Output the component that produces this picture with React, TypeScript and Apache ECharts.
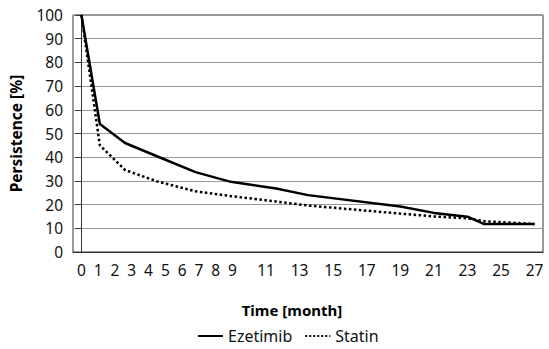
import React, { useEffect, useRef } from "react";
import * as echarts from "echarts";

const monthLabels = Array.from({ length: 28 }, (_, i) => String(i));
const timePoints = [0, 1.1, 2.6, 4.5, 6.8, 8.9, 11.6, 13.5, 19, 21, 23, 24, 27];
const ezetimib = [100, 54, 46, 40.4, 33.7, 29.6, 26.8, 24, 19.2, 16.5, 14.9, 11.8, 11.8];
const statin = [100, 45, 34.6, 29.8, 25.6, 23.6, 21.3, 19.6, 16.2, 15, 14.2, 13, 11.8];

const FONT = "Noto Sans";

export default function App() {
  const ref = useRef<HTMLDivElement>(null);
  useEffect(() => {
    if (!ref.current) return;
    const chart = echarts.init(ref.current, null, { renderer: "svg" });
    chart.setOption({
      animation: false,
      textStyle: { fontFamily: FONT, color: "#111" },
      grid: {
        left: 73,
        right: 6,
        top: 15,
        bottom: 97,
        show: true,
        borderColor: "#333",
        borderWidth: 1,
      },
      legend: {
        left: 192,
        top: 323,
        itemWidth: 25,
        itemHeight: 14,
        itemGap: 12,
        itemStyle: { opacity: 0 },
        textStyle: { fontFamily: FONT, fontSize: 16, color: "#111" },
        data: ["Ezetimib", "Statin"],
      },
      xAxis: [
        {
          type: "category",
          data: monthLabels,
          boundaryGap: true,
          axisTick: { show: false },
          axisLine: { show: true, lineStyle: { color: "#333", width: 1 } },
          axisLabel: {
            interval: (index: number) => index < 10 || index % 2 === 1,
            margin: 10,
            fontFamily: FONT,
            fontSize: 15.5,
            color: "#111",
          },
          name: "Time [month]",
          nameLocation: "middle",
          nameGap: 50,
          nameTextStyle: {
            fontFamily: FONT,
            fontWeight: "bold",
            fontSize: 15,
            color: "#000",
            padding: [0, 32, 0, 0],
          },
        },
        {
          type: "value",
          min: -0.5,
          max: 27.5,
          show: false,
          position: "bottom",
        },
      ],
      yAxis: {
        type: "value",
        min: 0,
        max: 100,
        interval: 10,
        axisLine: { show: true, lineStyle: { color: "#333", width: 1 } },
        axisTick: { show: true, length: 6, lineStyle: { color: "#333" } },
        axisLabel: {
          margin: 10,
          fontFamily: FONT,
          fontSize: 15.5,
          color: "#111",
        },
        splitLine: { show: true, lineStyle: { color: "#999", width: 1 } },
        name: "Persistence [%]",
        nameLocation: "middle",
        nameGap: 49,
        nameTextStyle: {
          fontFamily: FONT,
          fontWeight: "bold",
          fontSize: 15.5,
          color: "#000",
        },
      },
      series: [
        {
          name: "Ezetimib",
          type: "line",
          xAxisIndex: 1,
          data: timePoints.map((t, i) => [t, ezetimib[i]]),
          symbol: "none",
          lineStyle: { color: "#000", width: 2.5, type: "solid" },
          itemStyle: { color: "#000" },
        },
        {
          name: "Statin",
          type: "line",
          xAxisIndex: 1,
          data: timePoints.map((t, i) => [t, statin[i]]),
          symbol: "none",
          lineStyle: { color: "#000", width: 2.5, type: "dotted" },
          itemStyle: { color: "#000" },
        },
      ],
    });
    return () => chart.dispose();
  }, []);
  return <div ref={ref} style={{ width: 549, height: 349, position: "absolute", left: 0, top: 0 }} />;
}
